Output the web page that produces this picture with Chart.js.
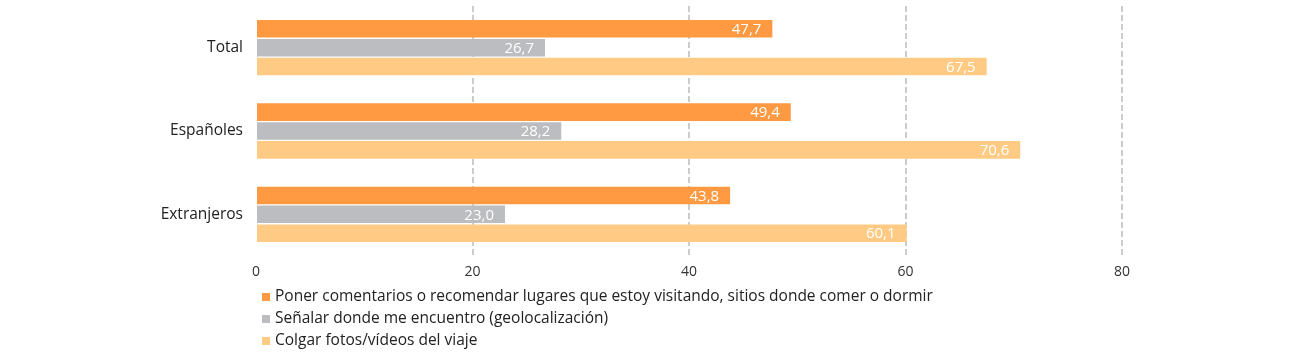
<!DOCTYPE html>
<html><head><meta charset="utf-8">
<script src="https://cdn.jsdelivr.net/npm/chart.js@4/dist/chart.umd.min.js"></script>
<style>html,body{margin:0;padding:0;background:#fff}#wrap{width:1292px;height:356px}</style>
</head><body><div id="wrap"><canvas id="c" width="1292" height="356"></canvas></div>
<script>
const categories = ['Total', 'Españoles', 'Extranjeros'];
const seriesNames = [
  'Poner comentarios o recomendar lugares que estoy visitando, sitios donde comer o dormir',
  'Señalar donde me encuentro (geolocalización)',
  'Colgar fotos/vídeos del viaje'
];
const comentarios = [47.7, 49.4, 43.8];
const geolocalizacion = [26.7, 28.2, 23.0];
const fotos = [67.5, 70.6, 60.1];
const xTicks = [0, 20, 40, 60, 80];
const colors = ['#FF9A42', '#BCBDC0', '#FFCB84'];

const FONT = "'Open Sans', sans-serif";

const valueLabels = {
  id: 'valueLabels',
  afterDatasetsDraw(chart) {
    const ctx = chart.ctx;
    ctx.save();
    ctx.fillStyle = '#ffffff';
    ctx.font = "15px " + FONT;
    ctx.textAlign = 'right';
    ctx.textBaseline = 'middle';
    chart.data.datasets.forEach((ds, i) => {
      chart.getDatasetMeta(i).data.forEach((bar, j) => {
        const txt = ds.data[j].toFixed(1).replace('.', ',');
        ctx.fillText(txt, bar.x - 11, bar.y + 1);
      });
    });
    ctx.restore();
  }
};

const customLegend = {
  id: 'customLegend',
  afterDraw(chart) {
    const ctx = chart.ctx;
    ctx.save();
    ctx.font = "15.5px " + FONT;
    ctx.textBaseline = 'middle';
    ctx.textAlign = 'left';
    chart.data.datasets.forEach((ds, i) => {
      const y = 297 + i * 22;
      ctx.fillStyle = ds.backgroundColor;
      ctx.fillRect(262, y - 4, 8, 8);
      ctx.fillStyle = '#222222';
      ctx.fillText(ds.label, 275, y);
    });
    ctx.restore();
  }
};

new Chart(document.getElementById('c'), {
  type: 'bar',
  data: {
    labels: categories,
    datasets: [
      { label: seriesNames[0], data: comentarios, backgroundColor: colors[0] },
      { label: seriesNames[1], data: geolocalizacion, backgroundColor: colors[1] },
      { label: seriesNames[2], data: fotos, backgroundColor: colors[2] }
    ]
  },
  options: {
    indexAxis: 'y',
    responsive: false,
    animation: false,
    devicePixelRatio: 1,
    layout: { padding: { top: 6, right: 170, bottom: 70, left: 0 } },
    datasets: { bar: { categoryPercentage: 0.68, barPercentage: 0.93 } },
    plugins: { legend: { display: false }, tooltip: { enabled: false } },
    scales: {
      x: {
        min: 0, max: 80,
        afterBuildTicks(scale) { scale.ticks = xTicks.map(v => ({ value: v })); },
        afterFit(scale) { scale.height = 30; scale.paddingLeft = 0; scale.paddingRight = 0; },
        border: { display: false, dash: [6, 3] },
        grid: {
          drawTicks: false,
          color: ctx => ctx.tick && ctx.tick.value === 0 ? 'rgba(0,0,0,0)' : '#cccccc',
          lineWidth: 2
        },
        ticks: { color: '#333333', font: { family: FONT, size: 14 }, padding: 8 }
      },
      y: {
        afterFit(scale) { scale.width = 256; scale.paddingTop = 0; scale.paddingBottom = 0; },
        border: { display: false },
        grid: { display: false },
        ticks: { color: '#222222', font: { family: FONT, size: 15.5 }, padding: 5 }
      }
    }
  },
  plugins: [valueLabels, customLegend]
});
</script>
</body></html>
